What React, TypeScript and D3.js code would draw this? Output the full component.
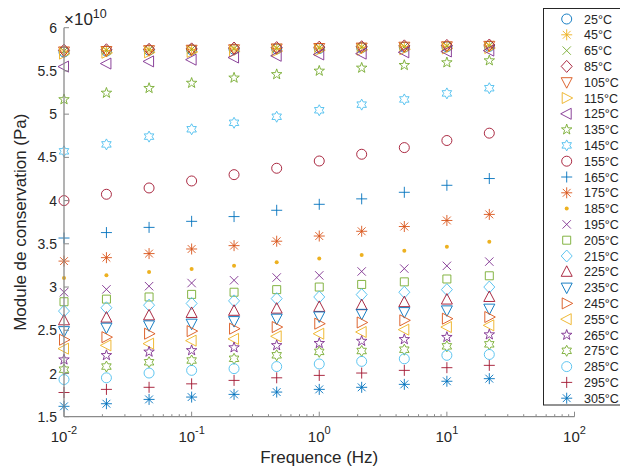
import React from "react";
import * as d3 from "d3";

const freqs = [0.01, 0.0215, 0.0464, 0.1, 0.215, 0.464, 1, 2.15, 4.64, 10, 21.5];
const temps = ["25°C","45°C","65°C","85°C","105°C","115°C","125°C","135°C","145°C","155°C","165°C","175°C","185°C","195°C","205°C","215°C","225°C","235°C","245°C","255°C","265°C","275°C","285°C","295°C","305°C"];
const markers = ["o","*","x","d","v",">","<","p","h","o","+","*",".","x","s","d","^","v",">","<","p","h","o","+","*"];
const colorKeys = ["blue","yellow","green","red","orange","yellow","purple","green","light","red","blue","orange","yellow","purple","green","light","red","blue","orange","yellow","purple","green","light","red","blue"];

const s25 = [5.72, 5.73, 5.74, 5.745, 5.75, 5.755, 5.76, 5.77, 5.775, 5.78, 5.785];
const s45 = [5.73, 5.735, 5.745, 5.75, 5.755, 5.76, 5.765, 5.775, 5.78, 5.785, 5.79];
const s65 = [5.73, 5.74, 5.745, 5.75, 5.76, 5.765, 5.77, 5.775, 5.78, 5.79, 5.795];
const s85 = [5.74, 5.745, 5.75, 5.755, 5.765, 5.77, 5.775, 5.78, 5.79, 5.795, 5.8];
const s105 = [5.725, 5.73, 5.74, 5.745, 5.75, 5.76, 5.765, 5.77, 5.78, 5.785, 5.79];
const s115 = [5.7, 5.71, 5.715, 5.72, 5.725, 5.73, 5.74, 5.745, 5.75, 5.76, 5.765];
const s125 = [5.55, 5.585, 5.61, 5.63, 5.655, 5.675, 5.69, 5.7, 5.715, 5.725, 5.735];
const s135 = [5.17, 5.245, 5.3, 5.36, 5.42, 5.46, 5.5, 5.535, 5.566, 5.597, 5.62];
const s145 = [4.57, 4.65, 4.74, 4.825, 4.9, 4.97, 5.045, 5.11, 5.17, 5.24, 5.3];
const s155 = [4.0, 4.073, 4.146, 4.227, 4.3, 4.374, 4.458, 4.536, 4.613, 4.695, 4.78];
const s165 = [3.567, 3.63, 3.69, 3.76, 3.815, 3.888, 3.957, 4.02, 4.096, 4.177, 4.255];
const s175 = [3.3, 3.34, 3.387, 3.44, 3.479, 3.53, 3.59, 3.645, 3.7, 3.77, 3.84];
const s185 = [3.105, 3.135, 3.174, 3.21, 3.247, 3.286, 3.33, 3.37, 3.42, 3.467, 3.525];
const s195 = [2.94, 2.973, 3.01, 3.046, 3.078, 3.11, 3.135, 3.18, 3.213, 3.245, 3.294];
const s205 = [2.83, 2.86, 2.885, 2.915, 2.94, 2.97, 3.0, 3.03, 3.06, 3.093, 3.13];
const s215 = [2.722, 2.76, 2.79, 2.81, 2.84, 2.866, 2.885, 2.912, 2.94, 2.97, 3.0];
const s225 = [2.615, 2.646, 2.672, 2.7, 2.725, 2.75, 2.77, 2.79, 2.825, 2.855, 2.885];
const s235 = [2.49, 2.53, 2.557, 2.576, 2.606, 2.634, 2.66, 2.69, 2.71, 2.73, 2.75];
const s245 = [2.39, 2.42, 2.46, 2.49, 2.518, 2.537, 2.576, 2.59, 2.615, 2.634, 2.653];
const s255 = [2.287, 2.325, 2.345, 2.38, 2.4, 2.43, 2.46, 2.48, 2.507, 2.537, 2.557];
const s265 = [2.16, 2.21, 2.25, 2.267, 2.3, 2.325, 2.35, 2.375, 2.395, 2.42, 2.45];
const s275 = [2.044, 2.08, 2.13, 2.15, 2.17, 2.21, 2.25, 2.26, 2.275, 2.314, 2.337];
const s285 = [1.93, 1.95, 2.005, 2.036, 2.056, 2.08, 2.11, 2.14, 2.17, 2.21, 2.22];
const s295 = [1.78, 1.816, 1.84, 1.88, 1.92, 1.95, 1.978, 2.005, 2.036, 2.067, 2.094];
const s305 = [1.62, 1.65, 1.7, 1.727, 1.758, 1.785, 1.816, 1.84, 1.874, 1.91, 1.94];

const seriesValues = [s25, s45, s65, s85, s105, s115, s125, s135, s145, s155, s165, s175, s185, s195, s205, s215, s225, s235, s245, s255, s265, s275, s285, s295, s305];

const yTicks = [1.5, 2, 2.5, 3, 3.5, 4, 4.5, 5, 5.5, 6];
const xTickExps = [-2, -1, 0, 1, 2];

const palette: Record<string, string> = {
  blue: "#0072BD",
  orange: "#D95319",
  yellow: "#EDB120",
  purple: "#7E2F8E",
  green: "#77AC30",
  light: "#4DBEEE",
  red: "#A2142F",
};

const FONT = "'Liberation Sans', Arial, Helvetica, sans-serif";
const TXT = "#262626";
const AX = "#8a8a8a";

function starPath(n: number, ro: number, ri: number) {
  const pts: string[] = [];
  for (let i = 0; i < n * 2; i++) {
    const r = i % 2 === 0 ? ro : ri;
    const a = -Math.PI / 2 + (i * Math.PI) / n;
    pts.push(`${(r * Math.cos(a)).toFixed(2)},${(r * Math.sin(a)).toFixed(2)}`);
  }
  return "M" + pts.join("L") + "Z";
}

function markerPath(m: string): string {
  switch (m) {
    case "o": return "M5,0A5,5 0 1,1 -5,0A5,5 0 1,1 5,0Z";
    case "s": return "M-4,-4H4V4H-4Z";
    case "d": return "M0,-6L5.5,0L0,6L-5.5,0Z";
    case "^": return "M0,-6L5.5,4.5L-5.5,4.5Z";
    case "v": return "M0,6L5.5,-4.5L-5.5,-4.5Z";
    case ">": return "M6,0L-4.5,-5.5L-4.5,5.5Z";
    case "<": return "M-6,0L4.5,-5.5L4.5,5.5Z";
    case "p": return starPath(5, 5.5, 2.2);
    case "h": return starPath(6, 5.5, 3.1);
    case "+": return "M-5.5,0H5.5M0,-5.5V5.5";
    case "x": return "M-4.2,-4.2L4.2,4.2M-4.2,4.2L4.2,-4.2";
    case "*": return "M-5.5,0H5.5M0,-5.5V5.5M-3.9,-3.9L3.9,3.9M-3.9,3.9L3.9,-3.9";
    default: return "";
  }
}

function Marker({ m, color, x, y }: { m: string; color: string; x: number; y: number }) {
  if (m === ".") {
    return <circle cx={x} cy={y} r={2} fill={color} stroke="none" />;
  }
  return (
    <path
      d={markerPath(m)}
      transform={`translate(${x},${y})`}
      fill="none"
      stroke={color}
      strokeWidth={0.9}
    />
  );
}

export default function App() {
  const W = 620, H = 471;
  const x = d3.scaleLog().domain([0.01, 100]).range([64, 574.5]);
  const y = d3.scaleLinear().domain([1.5, 6]).range([416.7, 27.7]);
  const x0 = x.range()[0], x1 = x.range()[1];
  const yb = y.range()[0], yt = y.range()[1];

  const minorTicks: number[] = [];
  for (let e = -2; e < 2; e++) {
    for (let k = 2; k <= 9; k++) minorTicks.push(k * Math.pow(10, e));
  }

  const legendTop = 19;
  const legendStep = 15.8;

  return (
    <svg
      width={W}
      height={H}
      viewBox={`0 0 ${W} ${H}`}
      style={{ position: "absolute", left: 0, top: 0, display: "block", background: "#fff" }}
      fontFamily={FONT}
    >
      <rect x={0} y={0} width={W} height={H} fill="#fff" />

      {/* data */}
      {seriesValues.map((vals, si) => (
        <g key={temps[si]}>
          {vals.map((v, i) => (
            <Marker key={i} m={markers[si]} color={palette[colorKeys[si]]} x={x(freqs[i])} y={y(v)} />
          ))}
        </g>
      ))}

      {/* axes */}
      <line x1={x0} y1={yb} x2={x1} y2={yb} stroke={AX} strokeWidth={1.3} />
      <line x1={x0} y1={yb} x2={x0} y2={yt} stroke={AX} strokeWidth={1.3} />
      {yTicks.map((t) => (
        <g key={t}>
          <line x1={x0} x2={x0 + 5} y1={y(t)} y2={y(t)} stroke={AX} strokeWidth={1} />
          <text x={57} y={y(t)} dy="0.36em" textAnchor="end" fontSize={14} fill={TXT}>
            {String(t)}
          </text>
        </g>
      ))}
      {minorTicks.map((t, i) => (
        <line key={i} x1={x(t)} x2={x(t)} y1={yb} y2={yb - 2.5} stroke={AX} strokeWidth={1} />
      ))}
      {xTickExps.map((e) => {
        const px = x(Math.pow(10, e));
        return (
          <g key={e}>
            <line x1={px} x2={px} y1={yb} y2={yb - 5} stroke={AX} strokeWidth={1} />
            <text x={px} y={442} textAnchor="middle" fontSize={15} fill={TXT}>
              10
              <tspan dy={-8} fontSize={11}>{String(e)}</tspan>
            </text>
          </g>
        );
      })}

      {/* exponent */}
      <text x={64} y={25} fontSize={17} fill={TXT}>
        ×10
        <tspan dy={-7} fontSize={12.5}>10</tspan>
      </text>

      {/* axis labels */}
      <text x={(x0 + x1) / 2} y={463} textAnchor="middle" fontSize={17} fill={TXT}>
        Frequence (Hz)
      </text>
      <text
        transform={`translate(26,${(yb + yt) / 2}) rotate(-90)`}
        textAnchor="middle"
        fontSize={17}
        fill={TXT}
      >
        Module de conservation (Pa)
      </text>

      {/* legend */}
      <rect x={543.5} y={8.5} width={100} height={396.5} fill="#fff" stroke={TXT} strokeWidth={1} />
      {temps.map((t, i) => {
        const ly = legendTop + i * legendStep;
        return (
          <g key={t}>
            <Marker m={markers[i]} color={palette[colorKeys[i]]} x={566.7} y={ly} />
            <text x={584} y={ly} dy="0.36em" fontSize={12.5} fill={TXT}>
              {t}
            </text>
          </g>
        );
      })}
    </svg>
  );
}
